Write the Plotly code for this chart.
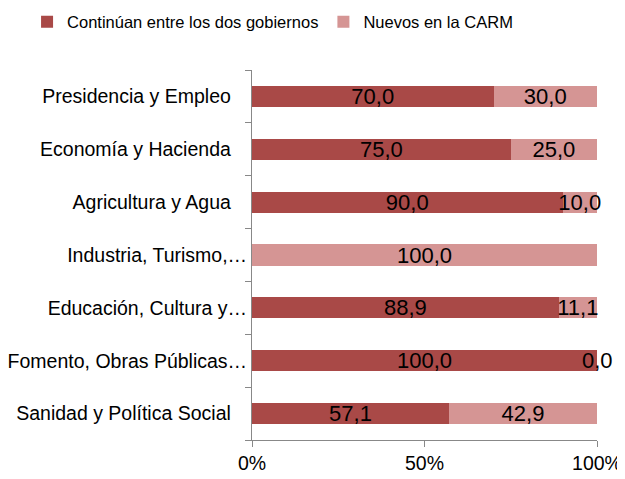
import plotly.graph_objects as go

categories = ["Presidencia y Empleo", "Economía y Hacienda", "Agricultura y Agua",
              "Industria, Turismo,…", "Educación, Cultura y…", "Fomento, Obras Públicas…",
              "Sanidad y Política Social"]
continuan = [70.0, 75.0, 90.0, None, 88.9, 100.0, 57.1]
nuevos = [30.0, 25.0, 10.0, 100.0, 11.1, 0.0, 42.9]
x_ticks = [0, 50, 100]
x_tick_labels = ["0%", "50%", "100%"]

FONT = "Liberation Sans, Arial, sans-serif"
DARK = "#A94947"
LIGHT = "#D59594"
LABEL = dict(color="black", size=22, family=FONT)

fig = go.Figure()
fig.add_trace(go.Bar(
    y=categories, x=continuan, name="Continúan entre los dos gobiernos", orientation="h",
    marker=dict(color=DARK, line=dict(width=0)), width=0.4,
    texttemplate="%{x:.1f}", textposition="inside", insidetextanchor="middle",
    textfont=LABEL, cliponaxis=False,
))
fig.add_trace(go.Bar(
    y=categories, x=nuevos, name="Nuevos en la CARM", orientation="h",
    marker=dict(color=LIGHT, line=dict(width=0)), width=0.4,
    texttemplate="%{x:.1f}", textposition="inside", insidetextanchor="middle",
    textfont=LABEL, cliponaxis=False,
))

# labels for zero-width segments (placed at their stacked position)
for cat, c, n in zip(categories, continuan, nuevos):
    if n == 0:
        base = c or 0
        fig.add_annotation(x=base + n, y=cat, xref="x", yref="y", text=f"{n:.1f}".replace(".", ","),
                           showarrow=False, font=LABEL, xanchor="center", yanchor="middle")

# untruncated category labels sit a little further from the axis, as in the original
y_tick_text = [c if c.endswith("…") else c + "\u00a0\u00a0\u00a0" for c in categories]

# page has an 8px body margin, so the figure is sized to the remaining viewport
fig.update_layout(
    barmode="stack",
    separators=",.",
    width=617, height=471,
    paper_bgcolor="white", plot_bgcolor="white",
    margin=dict(l=244, r=28, t=62, b=39, autoexpand=False),
    font=dict(family=FONT, size=19.5, color="black"),
    uniformtext=dict(minsize=22, mode="show"),
    legend=dict(orientation="h", x=-0.652, xanchor="left", y=1.13, yanchor="middle",
                xref="paper", yref="paper", font=dict(size=16.5, family=FONT),
                itemwidth=30, traceorder="normal"),
    xaxis=dict(range=[0, 100], tickvals=x_ticks, ticktext=x_tick_labels, automargin=False,
               showgrid=False, zeroline=False, showline=True, linecolor="#888888",
               linewidth=1, ticks="outside", ticklen=6, tickcolor="#888888",
               tickfont=dict(size=19.5, family=FONT)),
    yaxis=dict(autorange="reversed", showgrid=False, showline=True, linecolor="#888888",
               linewidth=1, ticks="outside", ticklen=6, tickcolor="#888888", automargin=False,
               tickson="boundaries", tickvals=categories, ticktext=y_tick_text,
               tickfont=dict(size=19.5, family=FONT)),
    bargap=0.6,
)

fig.write_html("out.html")
